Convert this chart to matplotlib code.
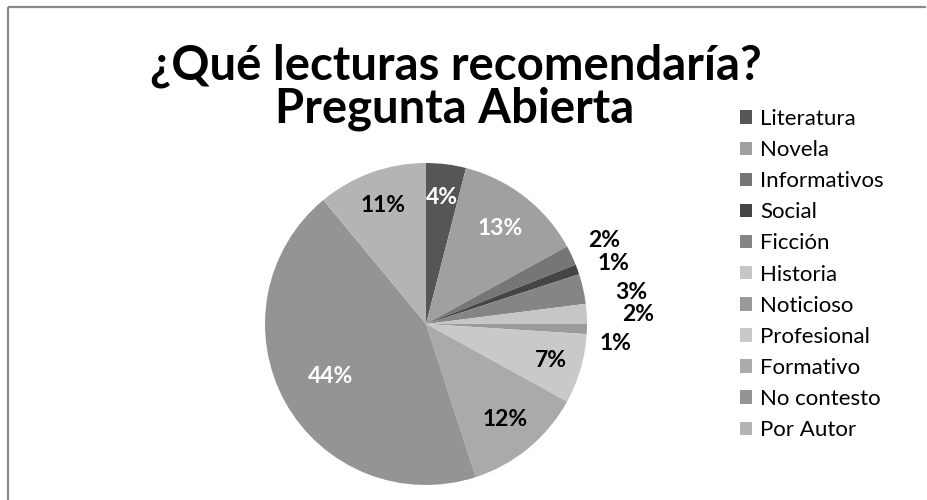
import numpy as np
import matplotlib
matplotlib.use("Agg")
import matplotlib.pyplot as plt
from matplotlib.lines import Line2D

categories = ["Literatura", "Novela", "Informativos", "Social", "Ficción", "Historia",
              "Noticioso", "Profesional", "Formativo", "No contesto", "Por Autor"]
values = [4, 13, 2, 1, 3, 2, 1, 7, 12, 44, 11]
colors = ["#565656", "#a0a0a0", "#767676", "#454545", "#858585", "#c6c6c6",
          "#9a9a9a", "#c9c9c9", "#aaaaaa", "#949494", "#b4b4b4"]
label_colors = ["white", "white", "black", "black", "black", "black",
                "black", "black", "black", "white", "black"]
# radial distance / angle nudge for each percentage label
label_dist = [0.79, 0.75, 1.22, 1.22, 1.29, 1.32, 1.18, 0.81, 0.77, 0.68, 0.78]
label_nudge = [0, 0, 0, -2, -4, -1, -4, 0, 0, 0, 0]

plt.rcParams['font.family'] = ['Lato', 'DejaVu Sans']

W, H = 927, 500
fig = plt.figure(figsize=(W / 100, H / 100), dpi=100)

# chart frame (partially cut off)
fig.add_artist(Line2D([8 / W, 0.999], [1 - 7 / H, 1 - 7 / H], color="#8a8a8a", lw=1.6,
                      transform=fig.transFigure, solid_capstyle="butt"))
fig.add_artist(Line2D([8 / W, 8 / W], [1 - 7 / H, 0.0], color="#8a8a8a", lw=1.6,
                      transform=fig.transFigure, solid_capstyle="butt"))

cx, cy, R = 426, 324, 161
ax = fig.add_axes([(cx - R) / W, (H - cy - R) / H, 2 * R / W, 2 * R / H])
wedges, _ = ax.pie(values, colors=colors, startangle=90, counterclock=False,
                   radius=1, wedgeprops=dict(linewidth=0))
ax.set_xlim(-1, 1)
ax.set_ylim(-1, 1)
ax.set_aspect("equal")
ax.axis("off")

for w, v, c, d, n in zip(wedges, values, label_colors, label_dist, label_nudge):
    ang = np.deg2rad((w.theta1 + w.theta2) / 2 + n)
    ax.text(d * np.cos(ang), d * np.sin(ang), f"{v}%", ha="center", va="center",
            fontsize=16.5, fontweight="bold", color=c)

fig.text(456 / W, 1 - 66 / H, "¿Qué lecturas recomendaría?", ha="center", va="center",
         fontsize=34, fontweight="bold")
fig.text(455 / W, 1 - 109 / H, "Pregunta Abierta", ha="center", va="center",
         fontsize=34, fontweight="bold")

fig.legend(wedges, categories, loc="upper left", bbox_to_anchor=(740 / W, 1 - 109 / H),
           frameon=False, fontsize=16, handlelength=0.55, handleheight=0.55,
           handletextpad=0.35, labelspacing=0.5, borderpad=0, borderaxespad=0)

fig.savefig("out.png", dpi=100, facecolor="white")
